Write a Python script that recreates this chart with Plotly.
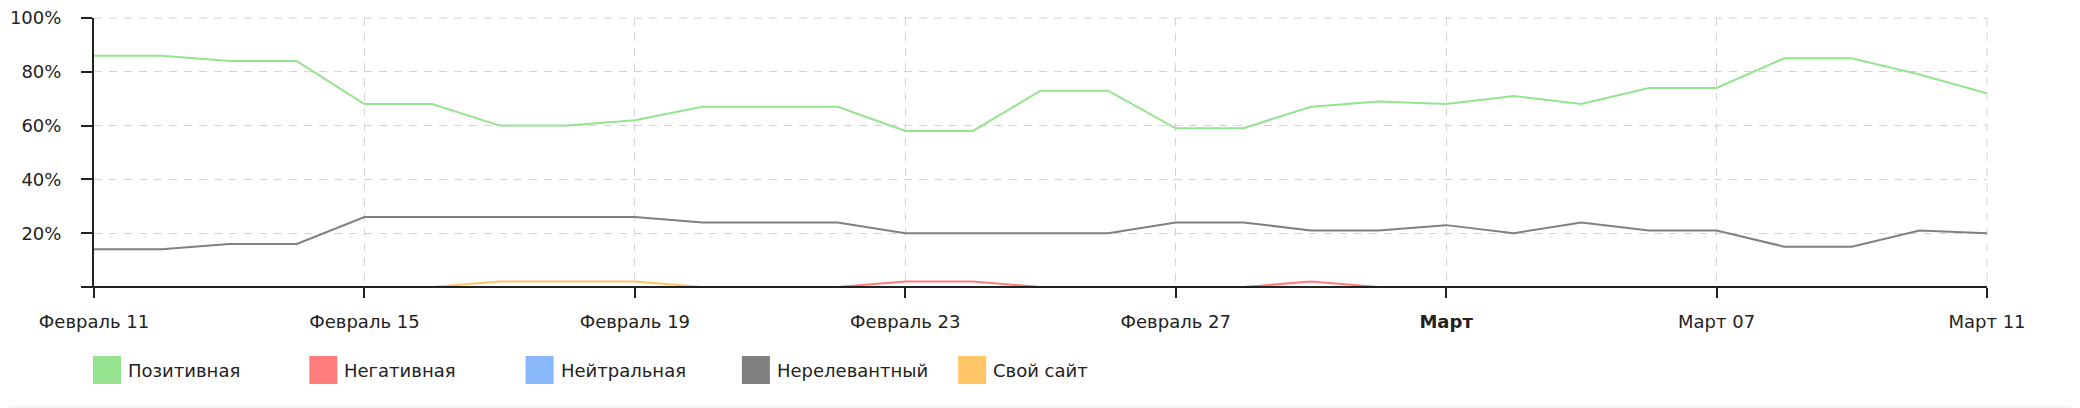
import plotly.graph_objects as go
import pandas as pd

# daily share of mentions, Feb 11 - Mar 11 (%)
dates = pd.date_range("2023-02-11", "2023-03-11", freq="D")

positive = [86, 86, 84, 84, 68, 68, 60, 60, 62, 67, 67, 67, 58, 58, 73,
            73, 59, 59, 67, 69, 68, 71, 68, 74, 74, 85, 85, 79, 72]
negative = [0, 0, 0, 0, 0, 0, 0, 0, 0, 0, 0, 0, 2, 2, 0,
            0, 0, 0, 2, 0, 0, 0, 0, 0, 0, 0, 0, 0, 0]
neutral = [0] * 29
irrelevant = [14, 14, 16, 16, 26, 26, 26, 26, 26, 24, 24, 24, 20, 20, 20,
              20, 24, 24, 21, 21, 23, 20, 24, 21, 21, 15, 15, 21, 20]
own_site = [0, 0, 0, 0, 0, 0, 2, 2, 2, 0, 0, 0, 0, 0, 0,
            0, 0, 0, 0, 0, 0, 0, 0, 0, 0, 0, 0, 0, 0]

series_names = ["Позитивная", "Негативная", "Нейтральная", "Нерелевантный", "Свой сайт"]
series_values = [positive, negative, neutral, irrelevant, own_site]
series_colors = ["#95e38f", "#ff7c7c", "#88b8fa", "#808080", "#ffc566"]

x_tick_dates = pd.date_range("2023-02-11", "2023-03-11", freq="4D")
x_tick_labels = ["Февраль 11", "Февраль 15", "Февраль 19", "Февраль 23",
                 "Февраль 27", "<b>Март</b>", "Март 07", "Март 11"]
y_tick_vals = [0, 20, 40, 60, 80, 100]
y_tick_labels = ["", "20%", "40%", "60%", "80%", "100%"]

W, H = 2080, 408
OFF = 8  # page body margin shifts the figure by this much
L, R, T, B = 94 - OFF, 93 + OFF, 18 - OFF, 121 + OFF
PW, PH = W - L - R, H - T - B
GRID_COLOR = "#d4d4d4"
GRID_DASH = "8px,7px"


def px_x(px):
    # screen pixel -> paper coordinate
    return (px - OFF - L) / PW


def px_y(py):
    return (H - B - (py - OFF)) / PH


fig = go.Figure()
# draw the flat-zero series first so the visible ones sit on top
for i in [2, 4, 1, 3, 0]:
    fig.add_trace(go.Scatter(x=dates, y=series_values[i], mode="lines", name=series_names[i],
                             line=dict(color=series_colors[i], width=2), showlegend=False))

# legend as big square swatches
shapes = []
annotations = []
for i, (name, color) in enumerate(zip(series_names, series_colors)):
    x0 = 93 + i * 216.3
    shapes.append(dict(type="rect", xref="paper", yref="paper",
                       x0=px_x(x0), x1=px_x(x0 + 28), y0=px_y(384), y1=px_y(356),
                       fillcolor=color, line=dict(width=0)))
    annotations.append(dict(text=name, xref="paper", yref="paper", x=px_x(x0 + 33), y=px_y(370),
                            xanchor="left", yanchor="middle", showarrow=False,
                            font=dict(size=18, color="#222")))
# baseline over the zero-valued lines
shapes.append(dict(type="line", xref="paper", yref="y", x0=0, x1=1, y0=0, y1=0,
                   line=dict(color="#222", width=2), layer="above"))
# grid lines on the top and right edges of the plot
shapes.append(dict(type="line", xref="paper", yref="paper", x0=0, x1=1, y0=1, y1=1,
                   line=dict(color=GRID_COLOR, width=1, dash=GRID_DASH), layer="below"))
shapes.append(dict(type="line", xref="paper", yref="paper", x0=1, x1=1, y0=1, y1=0,
                   line=dict(color=GRID_COLOR, width=1, dash=GRID_DASH), layer="below"))
# faint strip along the bottom edge
shapes.append(dict(type="rect", xref="paper", yref="paper", x0=px_x(0), x1=px_x(W),
                   y0=px_y(H), y1=px_y(405), fillcolor="#f3f8f8", line=dict(width=0)))

grid = dict(showgrid=True, gridcolor=GRID_COLOR, gridwidth=1, griddash=GRID_DASH)
fig.update_xaxes(type="date", range=[dates[0], dates[-1]], tickvals=x_tick_dates, ticktext=x_tick_labels,
                 ticks="outside", ticklen=10, tickwidth=2, tickcolor="#222",
                 showline=True, linecolor="#222", linewidth=1, layer="above traces",
                 tickfont=dict(size=18, color="#222"), ticklabelstandoff=8, zeroline=False,
                 ticklabeloverflow="allow", **grid)
fig.update_yaxes(range=[0, 100], tickvals=y_tick_vals, ticktext=y_tick_labels,
                 ticks="outside", ticklen=11, tickwidth=2, tickcolor="#222",
                 showline=True, linecolor="#222", linewidth=2, layer="above traces",
                 tickfont=dict(size=18, color="#222"), ticklabelstandoff=16, zeroline=False,
                 ticklabeloverflow="allow", **grid)
fig.update_layout(width=W, height=H, margin=dict(l=L, r=R, t=T, b=B, autoexpand=False),
                  paper_bgcolor="white", plot_bgcolor="white",
                  font=dict(family="DejaVu Sans", size=18, color="#222"),
                  shapes=shapes, annotations=annotations, showlegend=False)

fig.write_html("out.html")
